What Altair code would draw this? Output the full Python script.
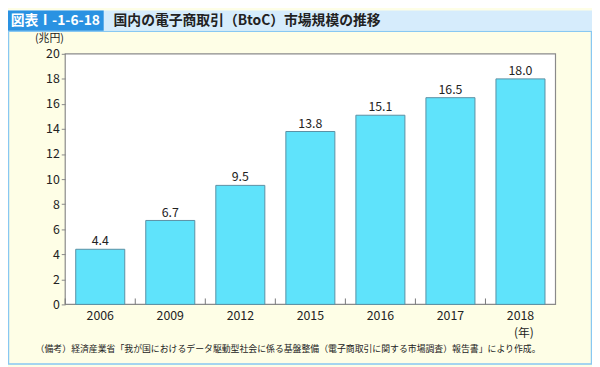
import altair as alt
import pandas as pd

years = ["2006", "2009", "2012", "2015", "2016", "2017", "2018"]
values = [4.4, 6.7, 9.5, 13.8, 15.1, 16.5, 18.0]
y_ticks = [0, 2, 4, 6, 8, 10, 12, 14, 16, 18, 20]

header_label = "図表Ⅰ-1-6-18"
title_text = "国内の電子商取引（BtoC）市場規模の推移"
unit_y = "(兆円)"
unit_x = "(年)"
note_head = "（備考）"
note_body = "経済産業省「我が国におけるデータ駆動型社会に係る基盤整備（電子商取引に関する市場調査）報告書」により作成。"

FONT = "Noto Sans CJK JP"
W, H = 497, 254

df = pd.DataFrame({"year": years, "value": values})
one = pd.DataFrame({"k": [0]})

x_scale = alt.Scale(paddingInner=0.3, paddingOuter=0.15)
x_axis = alt.Axis(title=None, labelAngle=0, ticks=False, domain=False,
                  labelPadding=5, labelFontSize=12.5, labelColor="#222",
                  labelFont=FONT, zindex=1)
y_scale = alt.Scale(domain=[0, 20], nice=False)
y_axis = alt.Axis(title=None, values=y_ticks, grid=False, domain=False,
                  labelOverlap=False, tickCount=11,
                  tickSize=4, tickColor="#888", labelPadding=2,
                  labelFontSize=12.5, labelColor="#222", labelFont=FONT, zindex=1)


def xe(**kw):
    return alt.X("year:N", sort=years, scale=x_scale, axis=x_axis, **kw)


def ye():
    return alt.Y("value:Q", scale=y_scale, axis=y_axis)


base = alt.Chart(df)
bars = base.mark_bar(color="#5fe3fb", stroke="#5a8fa3", strokeWidth=1).encode(x=xe(), y=ye())
labels = base.mark_text(dy=-8, fontSize=12.5, color="#222", font=FONT).encode(
    x=xe(), y=ye(), text=alt.Text("value:Q", format=".1f"))
step = W / 7.0
ticks = base.mark_rule(color="#777", strokeWidth=1).encode(
    x=xe(bandPosition=0),
    xOffset=alt.value(-0.15 * step),
    y=alt.value(H), y2=alt.value(H - 6))

deco = alt.Chart(one)
cream_border = deco.mark_rect(fill="#fefee6", stroke="#88c8f2", strokeWidth=1.5).encode(
    x=alt.value(-57.5), x2=alt.value(533.5), y=alt.value(-23), y2=alt.value(314.5))
plot_bg = deco.mark_rect(fill="white", stroke="#8a8a8a", strokeWidth=1.2).encode(
    x=alt.value(0), x2=alt.value(W), y=alt.value(0), y2=alt.value(H))
header_band = deco.mark_rect(fill="#d6ecfc").encode(
    x=alt.value(-58), x2=alt.value(534), y=alt.value(-44), y2=alt.value(-23.5))
header_box = deco.mark_rect(fill="#2a92e2").encode(
    x=alt.value(-58), x2=alt.value(39), y=alt.value(-44), y2=alt.value(-23.5))
header_txt = deco.mark_text(color="white", fontSize=14, font=FONT, fontWeight="bold",
                            align="center", baseline="middle").encode(
    x=alt.value(-10), y=alt.value(-33.5), text=alt.value(header_label))
title_txt = deco.mark_text(color="#222", fontSize=14, font=FONT, fontWeight="bold",
                           align="left", baseline="middle").encode(
    x=alt.value(49), y=alt.value(-33.5), text=alt.value(title_text))
unit_y_txt = deco.mark_text(color="#222", fontSize=11, font=FONT, align="center",
                            baseline="middle").encode(
    x=alt.value(-16), y=alt.value(-15), text=alt.value(unit_y))
unit_x_txt = deco.mark_text(color="#222", fontSize=12, font=FONT, align="center",
                            baseline="middle").encode(
    x=alt.value(465), y=alt.value(283), text=alt.value(unit_x))
note1 = deco.mark_text(color="#222", fontSize=9, font=FONT, align="left",
                       baseline="middle").encode(
    x=alt.value(-30), y=alt.value(299), text=alt.value(note_head))
note2 = deco.mark_text(color="#222", fontSize=9, font=FONT, align="left",
                       baseline="middle").encode(
    x=alt.value(6), y=alt.value(299), text=alt.value(note_body))

chart = alt.layer(
    cream_border, header_band, header_box, header_txt, title_txt, plot_bg,
    bars, ticks, labels, unit_y_txt, unit_x_txt, note1, note2
).properties(
    width=W, height=H,
    autosize=alt.AutoSizeParams(type="none"),
    padding={"left": 58, "top": 44, "right": 37, "bottom": 61},
    background="#fefee6",
).configure_view(stroke=None)

chart.save("out.html", embed_options={"renderer": "svg", "actions": False})
